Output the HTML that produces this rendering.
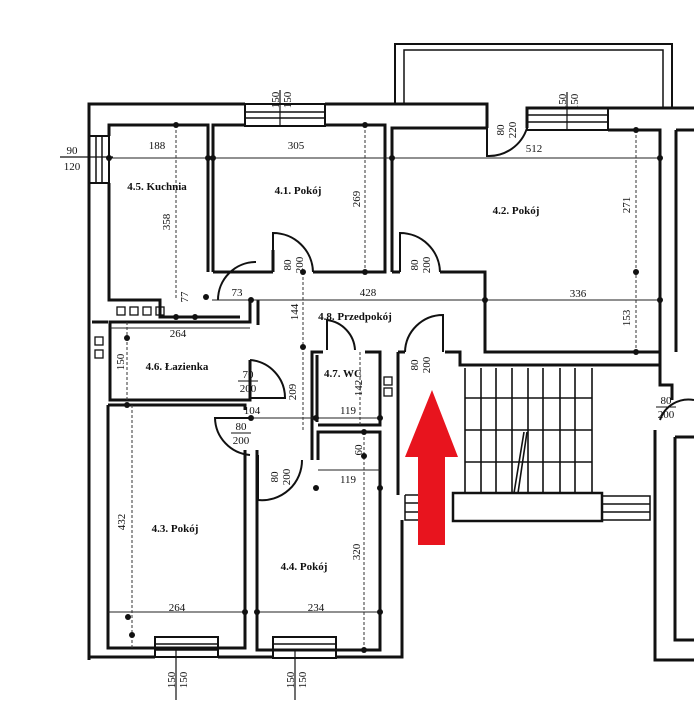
<!DOCTYPE html>
<html><head><meta charset="utf-8"><style>
html,body{margin:0;padding:0;background:#fff;}
svg{display:block}
text{font-family:"Liberation Serif",serif;font-weight:bold;fill:#111;}
.d{font-size:11px;font-weight:normal}
.r{font-size:11px}
</style></head><body>
<svg width="694" height="720" viewBox="0 0 694 720" xmlns="http://www.w3.org/2000/svg">
<g fill="none" stroke="#111" stroke-width="3" stroke-linejoin="miter">
<!-- balcony -->
<path d="M395,105 V44 H672 V108" stroke-width="2"/>
<path d="M404,105 V50 H663 V108" stroke-width="1.5"/>
<!-- outer top wall -->
<path d="M89,660 V104 H245"/>
<path d="M325,104 H487 V128"/>
<path d="M527,128 V108 H694"/>
<!-- top windows -->
<rect x="245" y="104" width="80" height="22" stroke-width="2"/>
<path d="M245,112 H325 M245,118 H325" stroke-width="1.5"/>
<rect x="527" y="108" width="81" height="22" stroke-width="2"/>
<path d="M527,115 H608 M527,122 H608" stroke-width="1.5"/>
<!-- left window -->
<rect x="89" y="136" width="20" height="47" stroke-width="2"/>
<path d="M96,136 V183 M102,136 V183" stroke-width="1.5"/>
<!-- kitchen -->
<path d="M109,136 V125 H208 V272"/>
<path d="M109,183 V300 H160 V317 H240"/>
<!-- room 4.1 -->
<path d="M213,272 V125 H245 M325,125 H385 V272 H313"/>
<path d="M273,272 H213 M273,272 V250"/>
<!-- room 4.2 -->
<path d="M392,272 V128 H487"/>
<path d="M608,130 H660 V352 H485 V272 H440"/>
<path d="M392,272 H400"/>
<!-- right side -->
<path d="M676,130 H694 M676,130 V352 M660,352 V385 H672 V400"/>
<path d="M675,437 H694 M675,437 V640 H694"/>
<path d="M655,430 V660 H694"/>
<!-- hallway / lavatory -->
<path d="M250,300 V322 H110 V400 H250 V360"/>
<path d="M258,300 V325"/>
<path d="M92,322 H108"/>
<!-- room 4.3 -->
<path d="M108,405 H245 V410"/>
<path d="M108,405 V648 H245 V450"/>
<!-- room 4.4 -->
<path d="M257,450 V650 H380 V432 H318 V460"/>
<!-- WC -->
<path d="M312,425 V352 H323 M365,352 H380 V425 H318 M312,425 V460"/>
<path d="M317,355 V422"/>
<!-- corridor right wall -->
<path d="M398,352 V495 M445,352 H460 V365 H660"/>
<path d="M398,352 H405"/>
<!-- bottom -->
<path d="M89,657 H155 M218,657 H273 M336,657 H402 V520"/>
<rect x="155" y="637" width="63" height="20" stroke-width="2"/>
<path d="M155,644 H218 M155,650 H218" stroke-width="1.5"/>
<rect x="273" y="637" width="63" height="21" stroke-width="2"/>
<path d="M273,644 H336 M273,650 H336" stroke-width="1.5"/>
<!-- stairs -->
<rect x="453" y="493" width="149" height="28" stroke-width="2.5"/>
<path d="M602,496 H650 V520 H602 M602,504 H650 M602,512 H650" stroke-width="1.5"/>
<path d="M405,495 H420 V520 H405 V495 M405,503 H420 M405,512 H420" stroke-width="1.5"/>
</g>
<g stroke="#111" stroke-width="1.6">
<path d="M465,368 V493 M481,368 V493 M496,368 V493 M512,368 V493 M528,368 V493 M543,368 V493 M560,368 V493 M575,368 V493 M592,368 V493"/>
<path d="M465,398 H592 M465,430 H592 M465,462 H592"/>
<path d="M514,493 L524,432 M518,493 L527,432"/>
</g>
<!-- door arcs -->
<g fill="none" stroke="#111" stroke-width="2">
<path d="M273,272 V233 A40,40 0 0 1 313,272"/>
<path d="M400,272 V233 A40,40 0 0 1 440,272"/>
<path d="M487,128 V156 A40,40 0 0 0 527,128"/>
<path d="M218,300 A38,38 0 0 1 256,262"/>
<path d="M250,360 A38,38 0 0 1 285,398 H250"/>
<path d="M250,418 H215 A38,38 0 0 0 250,455"/>
<path d="M258,455 V500 A40,40 0 0 0 302,460"/>
<path d="M327,350 V320 A32,32 0 0 1 355,350"/>
<path d="M405,352 A38,38 0 0 1 443,315 V352"/>
<path d="M660,420 A30,30 0 0 1 694,400"/>
</g>
<!-- dimension lines -->
<g stroke="#222" stroke-width="1">
<path d="M109,158 H660 M212,300 H485 M485,300 H660"/>
<path d="M251,418 H380 M318,470 H380"/>
<path d="M110,328 H250 M108,612 H245 M257,612 H380"/>
</g>
<g stroke="#333" stroke-width="1" stroke-dasharray="3,2">
<path d="M176,125 V300 M636,130 V352 M365,125 V272 M303,272 V430 M132,405 V648 M364,432 V650 M127,322 V400 M360,352 V425"/>
</g>
<g fill="#111">
<circle cx="109" cy="158" r="3"/><circle cx="208" cy="158" r="3"/><circle cx="213" cy="158" r="3"/><circle cx="392" cy="158" r="3"/><circle cx="660" cy="158" r="3"/>
<circle cx="176" cy="125" r="3"/><circle cx="636" cy="130" r="3"/><circle cx="365" cy="125" r="3"/><circle cx="365" cy="272" r="3"/>
<circle cx="206" cy="297" r="3"/><circle cx="251" cy="300" r="3"/><circle cx="485" cy="300" r="3"/><circle cx="660" cy="300" r="3"/><circle cx="636" cy="272" r="3"/><circle cx="636" cy="352" r="3"/>
<circle cx="303" cy="272" r="3"/><circle cx="303" cy="347" r="3"/><circle cx="251" cy="418" r="3"/><circle cx="316" cy="418" r="3"/><circle cx="380" cy="418" r="3"/><circle cx="364" cy="432" r="3"/><circle cx="364" cy="456" r="3"/><circle cx="316" cy="488" r="3"/><circle cx="380" cy="488" r="3"/>
<circle cx="128" cy="617" r="3"/><circle cx="245" cy="612" r="3"/><circle cx="257" cy="612" r="3"/><circle cx="380" cy="612" r="3"/><circle cx="132" cy="635" r="3"/><circle cx="364" cy="650" r="3"/>
<circle cx="127" cy="338" r="3"/><circle cx="127" cy="405" r="3"/><circle cx="176" cy="317" r="3"/><circle cx="195" cy="317" r="3"/>
</g>
<!-- small vent boxes -->
<g fill="none" stroke="#111" stroke-width="1.3">
<rect x="117" y="307" width="8" height="8"/><rect x="130" y="307" width="8" height="8"/><rect x="143" y="307" width="8" height="8"/><rect x="156" y="307" width="8" height="8"/>
<rect x="95" y="337" width="8" height="8"/><rect x="95" y="350" width="8" height="8"/>
<rect x="384" y="377" width="8" height="8"/><rect x="384" y="388" width="8" height="8"/>
</g>
<!-- window labels -->
<line x1="280" y1="90" x2="280" y2="126" stroke="#111" stroke-width="1.2"/>
<text class="d" transform="translate(279,100) rotate(-90)" text-anchor="middle">150</text>
<text class="d" transform="translate(291,100) rotate(-90)" text-anchor="middle">150</text>
<line x1="567" y1="92" x2="567" y2="130" stroke="#111" stroke-width="1.2"/>
<text class="d" transform="translate(566,102) rotate(-90)" text-anchor="middle">150</text>
<text class="d" transform="translate(578,102) rotate(-90)" text-anchor="middle">150</text>
<line x1="60" y1="157" x2="113" y2="157" stroke="#111" stroke-width="1.2"/>
<text class="d" x="72" y="154" text-anchor="middle">90</text>
<text class="d" x="72" y="170" text-anchor="middle">120</text>
<line x1="176" y1="650" x2="176" y2="700" stroke="#111" stroke-width="1.2"/>
<text class="d" transform="translate(175,680) rotate(-90)" text-anchor="middle">150</text>
<text class="d" transform="translate(187,680) rotate(-90)" text-anchor="middle">150</text>
<line x1="295" y1="650" x2="295" y2="700" stroke="#111" stroke-width="1.2"/>
<text class="d" transform="translate(294,680) rotate(-90)" text-anchor="middle">150</text>
<text class="d" transform="translate(306,680) rotate(-90)" text-anchor="middle">150</text>
<!-- door labels -->
<g class="d">
<text class="d" transform="translate(504,130) rotate(-90)" text-anchor="middle">80</text>
<text class="d" transform="translate(516,130) rotate(-90)" text-anchor="middle">220</text>
<text class="d" transform="translate(291,265) rotate(-90)" text-anchor="middle">80</text>
<text class="d" transform="translate(303,265) rotate(-90)" text-anchor="middle">200</text>
<text class="d" transform="translate(418,265) rotate(-90)" text-anchor="middle">80</text>
<text class="d" transform="translate(430,265) rotate(-90)" text-anchor="middle">200</text>
<text class="d" transform="translate(418,365) rotate(-90)" text-anchor="middle">80</text>
<text class="d" transform="translate(430,365) rotate(-90)" text-anchor="middle">200</text>
<text class="d" transform="translate(278,477) rotate(-90)" text-anchor="middle">80</text>
<text class="d" transform="translate(290,477) rotate(-90)" text-anchor="middle">200</text>
<text class="d" x="248" y="378" text-anchor="middle">70</text><line x1="238" y1="381" x2="258" y2="381" stroke="#111"/>
<text class="d" x="248" y="392" text-anchor="middle">200</text>
<text class="d" x="241" y="430" text-anchor="middle">80</text><line x1="231" y1="433" x2="251" y2="433" stroke="#111"/>
<text class="d" x="241" y="444" text-anchor="middle">200</text>
<text class="d" x="666" y="404" text-anchor="middle">80</text><line x1="656" y1="407" x2="676" y2="407" stroke="#111"/>
<text class="d" x="666" y="418" text-anchor="middle">200</text>
</g>
<!-- dimensions -->
<text class="d" x="157" y="149" text-anchor="middle">188</text>
<text class="d" x="296" y="149" text-anchor="middle">305</text>
<text class="d" x="534" y="152" text-anchor="middle">512</text>
<text class="d" x="237" y="296" text-anchor="middle">73</text>
<text class="d" x="368" y="296" text-anchor="middle">428</text>
<text class="d" x="578" y="297" text-anchor="middle">336</text>
<text class="d" x="178" y="337" text-anchor="middle">264</text>
<text class="d" x="252" y="414" text-anchor="middle">104</text>
<text class="d" x="348" y="414" text-anchor="middle">119</text>
<text class="d" x="348" y="483" text-anchor="middle">119</text>
<text class="d" x="177" y="611" text-anchor="middle">264</text>
<text class="d" x="316" y="611" text-anchor="middle">234</text>
<text class="d" transform="translate(170,222) rotate(-90)" text-anchor="middle">358</text>
<text class="d" transform="translate(360,199) rotate(-90)" text-anchor="middle">269</text>
<text class="d" transform="translate(630,205) rotate(-90)" text-anchor="middle">271</text>
<text class="d" transform="translate(630,318) rotate(-90)" text-anchor="middle">153</text>
<text class="d" transform="translate(188,297) rotate(-90)" text-anchor="middle">77</text>
<text class="d" transform="translate(298,312) rotate(-90)" text-anchor="middle">144</text>
<text class="d" transform="translate(296,392) rotate(-90)" text-anchor="middle">209</text>
<text class="d" transform="translate(124,362) rotate(-90)" text-anchor="middle">150</text>
<text class="d" transform="translate(362,388) rotate(-90)" text-anchor="middle">142</text>
<text class="d" transform="translate(362,450) rotate(-90)" text-anchor="middle">60</text>
<text class="d" transform="translate(125,522) rotate(-90)" text-anchor="middle">432</text>
<text class="d" transform="translate(360,552) rotate(-90)" text-anchor="middle">320</text>
<!-- room labels -->
<text class="r" x="157" y="190" text-anchor="middle">4.5. Kuchnia</text>
<text class="r" x="298" y="194" text-anchor="middle">4.1. Pokój</text>
<text class="r" x="516" y="214" text-anchor="middle">4.2. Pokój</text>
<text class="r" x="355" y="320" text-anchor="middle">4.8. Przedpokój</text>
<text class="r" x="177" y="370" text-anchor="middle">4.6. Łazienka</text>
<text class="r" x="343" y="377" text-anchor="middle">4.7. WC</text>
<text class="r" x="175" y="532" text-anchor="middle">4.3. Pokój</text>
<text class="r" x="304" y="570" text-anchor="middle">4.4. Pokój</text>
<!-- red arrow -->
<polygon points="432,390 458,457 445,457 445,545 418,545 418,457 405,457" fill="#e8141e"/>
</svg>
</body></html>
